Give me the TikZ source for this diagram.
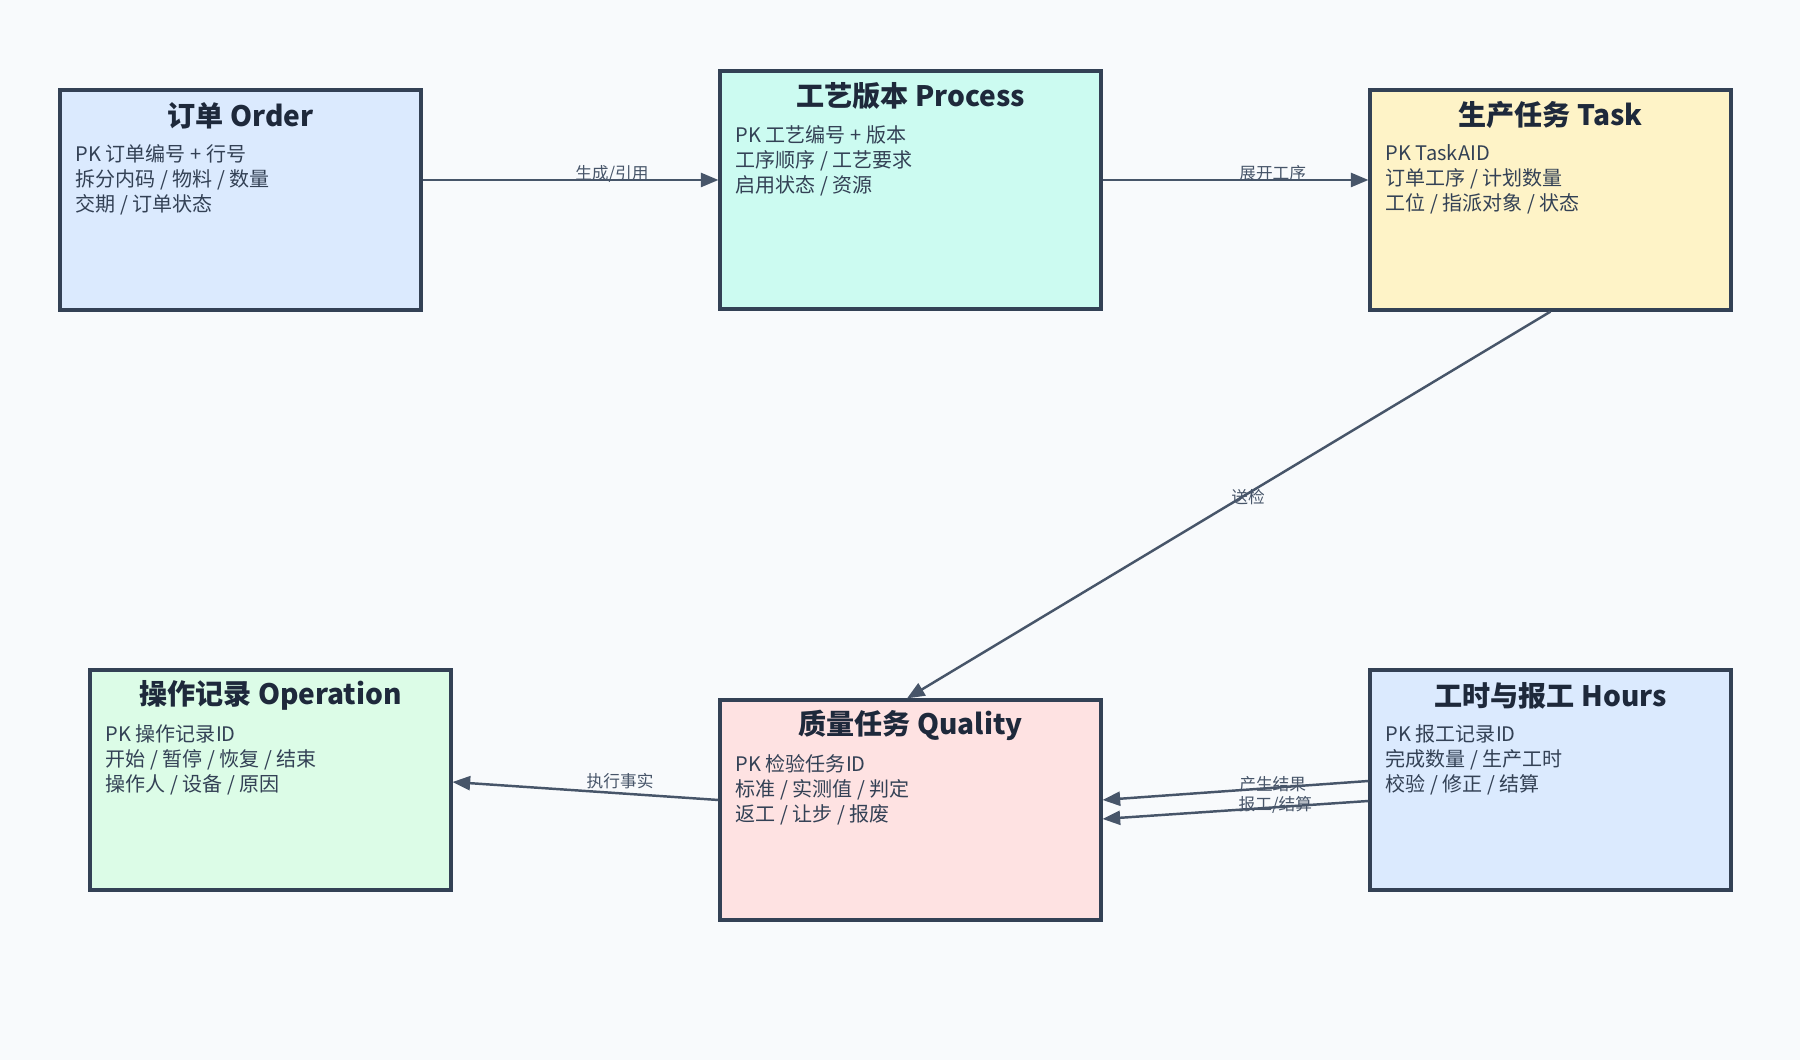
\documentclass[tikz,border=0pt]{standalone}
\usepackage{fontspec}
\setmainfont{Noto Sans CJK SC}
\usetikzlibrary{arrows.meta, positioning}
\definecolor{colsfondo}{HTML}{F8FAFC}
\definecolor{colbordo}{HTML}{334155}
\definecolor{coltitolo}{HTML}{1E293B}
\definecolor{colfreccia}{HTML}{475569}
\definecolor{colblu}{HTML}{DBEAFE}
\definecolor{colacqua}{HTML}{CCFBF1}
\definecolor{colgiallo}{HTML}{FEF3C7}
\definecolor{colverde}{HTML}{DCFCE7}
\definecolor{colrosa}{HTML}{FEE2E2}

\begin{document}
\begin{tikzpicture}[>={Triangle[length=10pt, width=8pt]},
			entita/.style={draw=colbordo, line width=1.8pt, minimum width=7.22cm, minimum height=4.4cm, inner sep=0pt},
			titolo/.style={font=\fontsize{16}{19}\selectfont\bfseries, text=coltitolo},
			campi/.style={font=\fontsize{11.4}{14.2}\selectfont, text=colbordo, align=left, inner sep=0pt},
			etichetta/.style={font=\fontsize{9.5}{11}\selectfont, text=colfreccia, inner sep=0pt},
			every edge/.style={->, draw=colfreccia, line width=1.4pt}]
			
			% Sfondo
			\useasboundingbox (0,0) rectangle (36,21.2);
			\fill[colsfondo] (0,0) rectangle (36,21.2);
			
			% Entita in alto
			\node[entita, fill=colblu] (order) at (4.81,17.2) {};
			\node[entita, fill=colacqua, minimum width=7.62cm, minimum height=4.76cm] (process) at (18.21,17.4) {};
			\node[entita, fill=colgiallo] (task) at (31.01,17.2) {};
			
			% Entita in basso
			\node[entita, fill=colverde] (operation) at (5.41,5.6) {};
			\node[entita, fill=colrosa, minimum width=7.62cm] (quality) at (18.21,5.0) {};
			\node[entita, fill=colblu] (hours) at (31.01,5.6) {};
			
			% Titoli e campi
			\node[titolo] (order-t) at ([yshift=-0.54cm]order.north) {订单 Order};
			\node[campi, below right=1.12cm and 0.34cm of order.north west] (order-c) {PK 订单编号 + 行号\\拆分内码 / 物料 / 数量\\交期 / 订单状态};
			
			\node[titolo] (process-t) at ([yshift=-0.54cm]process.north) {工艺版本 Process};
			\node[campi, below right=1.12cm and 0.34cm of process.north west] (process-c) {PK 工艺编号 + 版本\\工序顺序 / 工艺要求\\启用状态 / 资源};
			
			\node[titolo] (task-t) at ([yshift=-0.54cm]task.north) {生产任务 Task};
			\node[campi, below right=1.12cm and 0.34cm of task.north west] (task-c) {PK TaskAID\\订单工序 / 计划数量\\工位 / 指派对象 / 状态};
			
			\node[titolo] (operation-t) at ([yshift=-0.54cm]operation.north) {操作记录 Operation};
			\node[campi, below right=1.12cm and 0.34cm of operation.north west] (operation-c) {PK 操作记录ID\\开始 / 暂停 / 恢复 / 结束\\操作人 / 设备 / 原因};
			
			\node[titolo] (quality-t) at ([yshift=-0.54cm]quality.north) {质量任务 Quality};
			\node[campi, below right=1.12cm and 0.34cm of quality.north west] (quality-c) {PK 检验任务ID\\标准 / 实测值 / 判定\\返工 / 让步 / 报废};
			
			\node[titolo] (hours-t) at ([yshift=-0.54cm]hours.north) {工时与报工 Hours};
			\node[campi, below right=1.12cm and 0.34cm of hours.north west] (hours-c) {PK 报工记录ID\\完成数量 / 生产工时\\校验 / 修正 / 结算};
			
			% --- Relazioni ---
			\draw ([yshift=0.4cm]order.east) edge node[etichetta, above, pos=0.64, yshift=-2pt]{生成/引用} ([yshift=0.2cm]process.west);
			\draw ([yshift=0.2cm]process.east) edge node[etichetta, above, pos=0.64, yshift=-1pt]{展开工序} ([yshift=0.4cm]task.west);
			\draw (task.south) edge node[etichetta, pos=0.47, yshift=-2pt]{送检} ([xshift=-0.07cm]quality.north);
			\draw ([yshift=0.2cm]quality.west) edge node[etichetta, above, pos=0.37, yshift=2pt]{执行事实} ([yshift=-0.04cm]operation.east);
			
			% Da Hours verso Quality
			\draw ([yshift=-0.02cm]hours.west) edge node[etichetta, above, pos=0.36, yshift=-3pt]{产生结果} ([yshift=0.2cm]quality.east);
			\draw ([yshift=-0.42cm]hours.west) edge node[etichetta, above, pos=0.35, yshift=-4pt]{报工/结算} ([yshift=-0.18cm]quality.east);
		\end{tikzpicture}
\end{document}
